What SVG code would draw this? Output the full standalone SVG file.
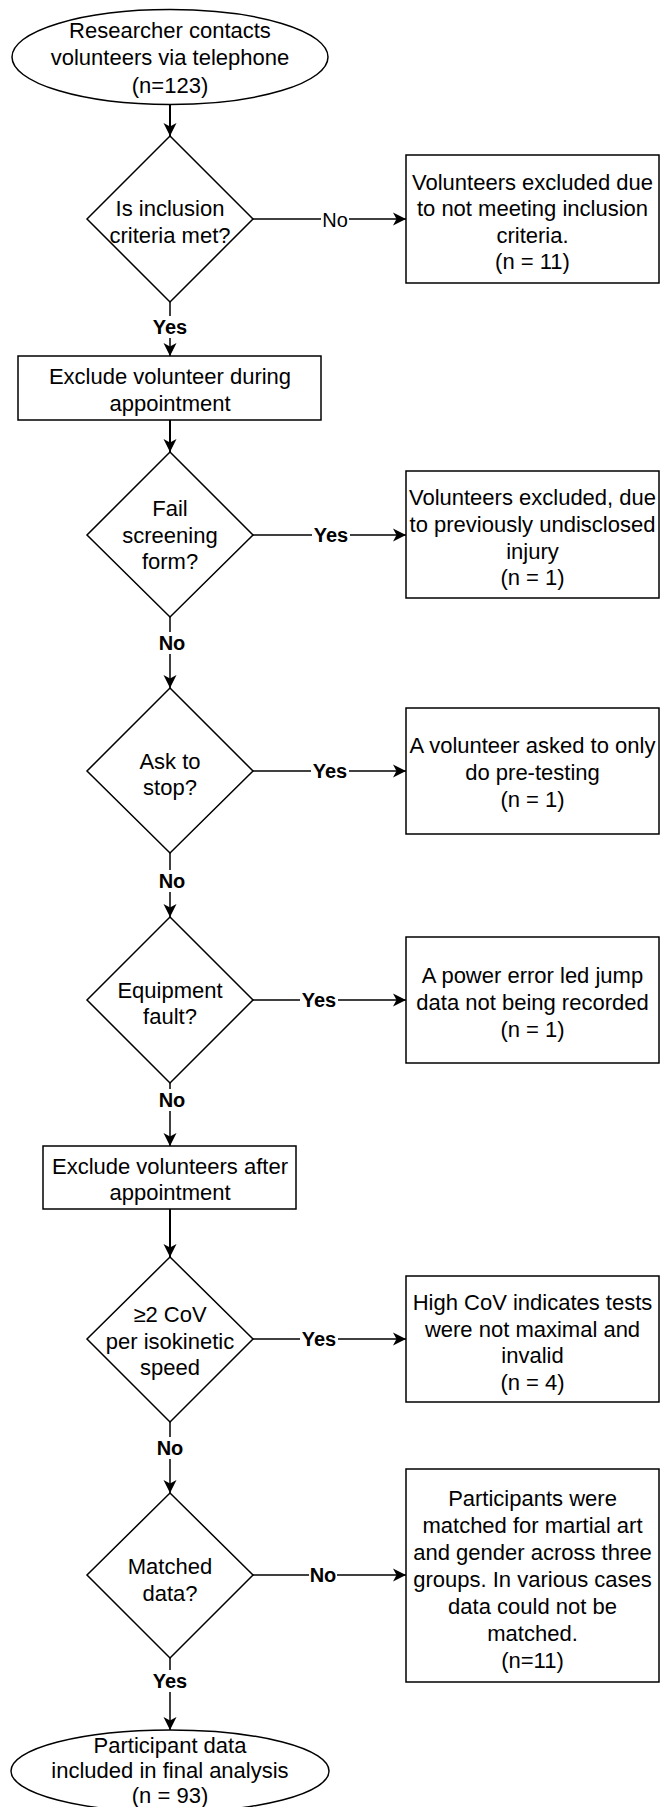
<svg xmlns="http://www.w3.org/2000/svg" width="660" height="1807" viewBox="0 0 660 1807">
<style>
.s{fill:#fff;stroke:#000;stroke-width:1.5}
.t{font-family:"Liberation Sans",Arial,sans-serif;font-size:22px;fill:#000;text-anchor:middle;dominant-baseline:central}
.l{font-family:"Liberation Sans",Arial,sans-serif;font-size:20px;fill:#000;text-anchor:middle;dominant-baseline:central}
.b{font-weight:bold}
.e{fill:none;stroke:#000;stroke-width:1.5}
.e2{fill:none;stroke:#000;stroke-width:2}
.bg{fill:#fff;stroke:none}
</style>
<defs>
<marker id="arr" markerUnits="userSpaceOnUse" markerWidth="14" markerHeight="14" viewBox="0 0 14 14" refX="13" refY="7" orient="auto">
<path d="M0,0.5 L13,7 L0,13.5 L3.5,7 Z" fill="#000"/>
</marker>
</defs>
<g id="connectors">
<path class="e2" d="M170,104 V136" marker-end="url(#arr)"/>
<path class="e" d="M253,219 H406" marker-end="url(#arr)"/>
<path class="e" d="M170,302 V356" marker-end="url(#arr)"/>
<path class="e2" d="M170,420 V452" marker-end="url(#arr)"/>
<path class="e" d="M253,535 H406" marker-end="url(#arr)"/>
<path class="e" d="M170,617 V688" marker-end="url(#arr)"/>
<path class="e" d="M253,771 H406" marker-end="url(#arr)"/>
<path class="e" d="M170,853 V917" marker-end="url(#arr)"/>
<path class="e" d="M253,1000 H406" marker-end="url(#arr)"/>
<path class="e" d="M170,1083 V1146" marker-end="url(#arr)"/>
<path class="e2" d="M170,1209 V1257" marker-end="url(#arr)"/>
<path class="e" d="M253,1339 H406" marker-end="url(#arr)"/>
<path class="e" d="M170,1422 V1493" marker-end="url(#arr)"/>
<path class="e" d="M253,1575 H406" marker-end="url(#arr)"/>
<path class="e" d="M170,1658 V1730" marker-end="url(#arr)"/>
<g id="edge-labels">
<rect class="bg" x="321" y="209" width="28" height="22"/><text class="l" x="335" y="220">No</text>
<rect class="bg" x="151" y="316" width="38" height="22"/><text class="l b" x="170" y="327">Yes</text>
<rect class="bg" x="312" y="524" width="38" height="22"/><text class="l b" x="331" y="535">Yes</text>
<rect class="bg" x="158" y="632" width="28" height="22"/><text class="l b" x="172" y="643">No</text>
<rect class="bg" x="311" y="760" width="38" height="22"/><text class="l b" x="330" y="771">Yes</text>
<rect class="bg" x="158" y="870" width="28" height="22"/><text class="l b" x="172" y="881">No</text>
<rect class="bg" x="300" y="989" width="38" height="22"/><text class="l b" x="319" y="1000">Yes</text>
<rect class="bg" x="158" y="1089" width="28" height="22"/><text class="l b" x="172" y="1100">No</text>
<rect class="bg" x="300" y="1328" width="38" height="22"/><text class="l b" x="319" y="1339">Yes</text>
<rect class="bg" x="156" y="1437" width="28" height="22"/><text class="l b" x="170" y="1448">No</text>
<rect class="bg" x="309" y="1564" width="28" height="22"/><text class="l b" x="323" y="1575">No</text>
<rect class="bg" x="151" y="1670" width="38" height="22"/><text class="l b" x="170" y="1681">Yes</text>
</g>
</g>
<g id="start">
<ellipse class="s" cx="170" cy="57" rx="158" ry="47.5"/>
<text class="t" x="170" y="30">Researcher contacts</text>
<text class="t" x="170" y="57.5">volunteers via telephone</text>
<text class="t" x="170" y="85">(n=123)</text>
</g>
<g id="d1">
<path class="s" d="M170,136 L253,219 L170,302 L87,219 Z"/>
<text class="t" x="170" y="208.5">Is inclusion</text>
<text class="t" x="170" y="235">criteria met?</text>
</g>
<g id="r1">
<rect class="s" x="406" y="155" width="253" height="128"/>
<text class="t" x="532.5" y="182">Volunteers excluded due</text>
<text class="t" x="532.5" y="208.5">to not meeting inclusion</text>
<text class="t" x="532.5" y="235">criteria.</text>
<text class="t" x="532.5" y="261.5">(n = 11)</text>
</g>
<g id="a1">
<rect class="s" x="18" y="356" width="303" height="64"/>
<text class="t" x="170" y="376">Exclude volunteer during</text>
<text class="t" x="170" y="403">appointment</text>
</g>
<g id="d2">
<path class="s" d="M170,452 L253,535 L170,617 L87,535 Z"/>
<text class="t" x="170" y="508.5">Fail</text>
<text class="t" x="170" y="535">screening</text>
<text class="t" x="170" y="561.5">form?</text>
</g>
<g id="r2">
<rect class="s" x="406" y="471" width="253" height="127"/>
<text class="t" x="532.5" y="497">Volunteers excluded, due</text>
<text class="t" x="532.5" y="524">to previously undisclosed</text>
<text class="t" x="532.5" y="551">injury</text>
<text class="t" x="532.5" y="577.5">(n = 1)</text>
</g>
<g id="d3">
<path class="s" d="M170,688 L253,771 L170,853 L87,771 Z"/>
<text class="t" x="170" y="761">Ask to</text>
<text class="t" x="170" y="787.5">stop?</text>
</g>
<g id="r3">
<rect class="s" x="406" y="708" width="253" height="126"/>
<text class="t" x="532.5" y="745">A volunteer asked to only</text>
<text class="t" x="532.5" y="772">do pre-testing</text>
<text class="t" x="532.5" y="799">(n = 1)</text>
</g>
<g id="d4">
<path class="s" d="M170,917 L253,1000 L170,1083 L87,1000 Z"/>
<text class="t" x="170" y="990">Equipment</text>
<text class="t" x="170" y="1016">fault?</text>
</g>
<g id="r4">
<rect class="s" x="406" y="937" width="253" height="126"/>
<text class="t" x="532.5" y="975">A power error led jump</text>
<text class="t" x="532.5" y="1002">data not being recorded</text>
<text class="t" x="532.5" y="1029">(n = 1)</text>
</g>
<g id="a2">
<rect class="s" x="43" y="1146" width="253" height="63"/>
<text class="t" x="170" y="1166">Exclude volunteers after</text>
<text class="t" x="170" y="1192.5">appointment</text>
</g>
<g id="d5">
<path class="s" d="M170,1257 L253,1339 L170,1422 L87,1339 Z"/>
<text class="t" x="170" y="1314.5">≥2 CoV</text>
<text class="t" x="170" y="1341">per isokinetic</text>
<text class="t" x="170" y="1367">speed</text>
</g>
<g id="r5">
<rect class="s" x="406" y="1276" width="253" height="126"/>
<text class="t" x="532.5" y="1302">High CoV indicates tests</text>
<text class="t" x="532.5" y="1329">were not maximal and</text>
<text class="t" x="532.5" y="1355.5">invalid</text>
<text class="t" x="532.5" y="1382">(n = 4)</text>
</g>
<g id="d6">
<path class="s" d="M170,1493 L253,1575 L170,1658 L87,1575 Z"/>
<text class="t" x="170" y="1566">Matched</text>
<text class="t" x="170" y="1593">data?</text>
</g>
<g id="r6">
<rect class="s" x="406" y="1469" width="253" height="213"/>
<text class="t" x="532.5" y="1498.5">Participants were</text>
<text class="t" x="532.5" y="1525.5">matched for martial art</text>
<text class="t" x="532.5" y="1552.5">and gender across three</text>
<text class="t" x="532.5" y="1579">groups. In various cases</text>
<text class="t" x="532.5" y="1606">data could not be</text>
<text class="t" x="532.5" y="1633">matched.</text>
<text class="t" x="532.5" y="1660">(n=11)</text>
</g>
<g id="end">
<ellipse class="s" cx="170" cy="1771" rx="159" ry="41"/>
<text class="t" x="170" y="1745">Participant data</text>
<text class="t" x="170" y="1770">included in final analysis</text>
<text class="t" x="170" y="1795">(n = 93)</text>
</g>
</svg>
